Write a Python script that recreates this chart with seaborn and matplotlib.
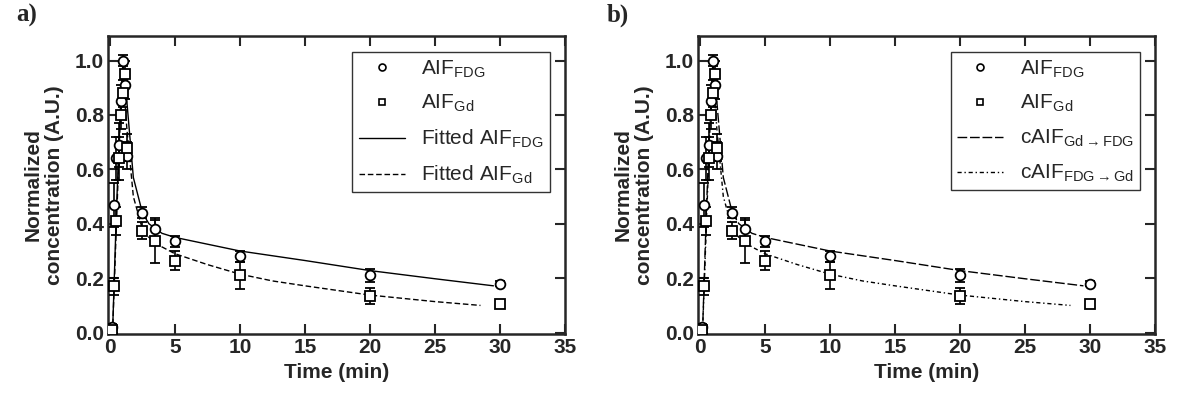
import matplotlib
matplotlib.use("Agg")
import matplotlib.pyplot as plt
from matplotlib.lines import Line2D
import pandas as pd
import seaborn as sns

t_fdg = [0, 0.17, 0.33, 0.5, 0.67, 0.83, 1.0, 1.17, 1.33, 2.5, 3.5, 5, 10, 20, 30]
aif_fdg = [0.01, 0.02, 0.47, 0.64, 0.69, 0.85, 1.0, 0.91, 0.65, 0.44, 0.38, 0.335, 0.28, 0.21, 0.18]
err_fdg = [0.01, 0.01, 0.08, 0.08, 0.08, 0.06, 0.02, 0.05, 0.05, 0.02, 0.04, 0.02, 0.02, 0.025, 0.01]

t_gd = [0, 0.17, 0.33, 0.5, 0.67, 0.83, 1.0, 1.17, 1.33, 2.5, 3.5, 5, 10, 20, 30]
aif_gd = [0.0, 0.01, 0.17, 0.41, 0.64, 0.80, 0.88, 0.95, 0.68, 0.375, 0.335, 0.265, 0.21, 0.135, 0.107]
err_gd = [0.01, 0.01, 0.03, 0.05, 0.08, 0.05, 0.05, 0.05, 0.05, 0.03, 0.08, 0.035, 0.05, 0.03, 0.01]

# fitted / converted curves
fit_t_fdg = [0.2, 0.5, 0.8, 1.0, 1.3, 1.8, 2.5, 3.0, 4.0, 5, 7.5, 10, 15, 20, 25, 29.5]
fit_fdg = [0.0, 0.45, 0.82, 1.0, 0.85, 0.57, 0.44, 0.40, 0.365, 0.35, 0.325, 0.30, 0.265, 0.228, 0.198, 0.172]
fit_t_gd = [0.2, 0.5, 0.8, 1.0, 1.3, 1.8, 2.5, 3.0, 4.0, 5, 7.5, 10, 12.5, 15, 20, 25, 28.5]
fit_gd = [0.0, 0.40, 0.80, 0.95, 0.75, 0.50, 0.38, 0.35, 0.315, 0.29, 0.25, 0.215, 0.19, 0.172, 0.138, 0.114, 0.10]

legend_a = [r'AIF$_{\mathrm{FDG}}$', r'AIF$_{\mathrm{Gd}}$',
            r'Fitted AIF$_{\mathrm{FDG}}$', r'Fitted AIF$_{\mathrm{Gd}}$']
legend_b = [r'AIF$_{\mathrm{FDG}}$', r'AIF$_{\mathrm{Gd}}$',
            r'cAIF$_{\mathrm{Gd}\rightarrow\mathrm{FDG}}$', r'cAIF$_{\mathrm{FDG}\rightarrow\mathrm{Gd}}$']

sns.set_style("ticks")
plt.rcParams['font.family'] = ['Liberation Sans', 'DejaVu Sans']
plt.rcParams['mathtext.fontset'] = 'custom'
plt.rcParams['mathtext.rm'] = 'Liberation Sans'
plt.rcParams['mathtext.it'] = 'Liberation Sans:italic'
plt.rcParams['mathtext.bf'] = 'Liberation Sans:bold'

fit_fdg_df = pd.DataFrame({'t': fit_t_fdg, 'c': fit_fdg})
fit_gd_df = pd.DataFrame({'t': fit_t_gd, 'c': fit_gd})


def draw_panel(ax, labels, styles, tag):
    sns.lineplot(data=fit_fdg_df, x='t', y='c', ax=ax, color='black', lw=1.0,
                 linestyle=styles[0], sort=False)
    sns.lineplot(data=fit_gd_df, x='t', y='c', ax=ax, color='black', lw=1.0,
                 linestyle=styles[1], sort=False)
    ax.errorbar(t_fdg, aif_fdg, yerr=err_fdg, fmt='o', ms=7, mfc='white', mec='black',
                mew=1.3, ecolor='black', elinewidth=1.2, capsize=3.5, zorder=3)
    ax.errorbar(t_gd, aif_gd, yerr=err_gd, fmt='s', ms=6.5, mfc='white', mec='black',
                mew=1.3, ecolor='black', elinewidth=1.2, capsize=3.5, zorder=3)

    ax.set_xlim(-0.15, 35)
    ax.set_ylim(-0.005, 1.09)
    ax.set_xticks(range(0, 36, 5))
    ax.set_yticks([0.0, 0.2, 0.4, 0.6, 0.8, 1.0])
    ax.set_yticklabels(['0.0', '0.2', '0.4', '0.6', '0.8', '1.0'])
    ax.tick_params(direction='in', length=7, width=1.5, top=True, right=True,
                   labelsize=15, pad=3)
    for lab in ax.get_xticklabels() + ax.get_yticklabels():
        lab.set_fontweight('bold')
    for sp in ax.spines.values():
        sp.set_linewidth(1.8)
        sp.set_visible(True)
    ax.set_xlabel('Time (min)', fontsize=15, fontweight='bold', labelpad=4)
    ax.set_ylabel('Normalized\nconcentration (A.U.)', fontsize=15, fontweight='bold',
                  labelpad=8, linespacing=1.1)

    handles = [
        Line2D([], [], marker='o', ls='none', ms=5, mfc='white', mec='black', mew=1.2),
        Line2D([], [], marker='s', ls='none', ms=5, mfc='white', mec='black', mew=1.2),
        Line2D([], [], color='black', lw=1.0, ls=styles[0]),
        Line2D([], [], color='black', lw=1.0, ls=styles[1]),
    ]
    leg = ax.legend(handles, labels, loc='upper right', fontsize=15, frameon=True,
                    fancybox=False, edgecolor='black', borderpad=0.3, labelspacing=0.65,
                    handlelength=2.2, handletextpad=0.8, borderaxespad=0,
                    bbox_to_anchor=(0.967, 0.946))
    leg.get_frame().set_linewidth(1.0)
    ax.text(-0.2, 1.07, tag, transform=ax.transAxes, fontsize=18, fontweight='bold',
            family=['Liberation Serif', 'DejaVu Serif'], va='center', ha='left')


fig = plt.figure(figsize=(11.79, 3.97), dpi=100)
ax_a = fig.add_axes([0.0916, 0.1587, 0.3876, 0.7506])
ax_b = fig.add_axes([0.5920, 0.1587, 0.3876, 0.7506])

draw_panel(ax_a, legend_a, ['-', (0, (4, 2))], 'a)')
draw_panel(ax_b, legend_b, [(0, (7, 2)), (0, (3, 2, 1, 2))], 'b)')

fig.savefig('out.png', dpi=100, facecolor='white')
